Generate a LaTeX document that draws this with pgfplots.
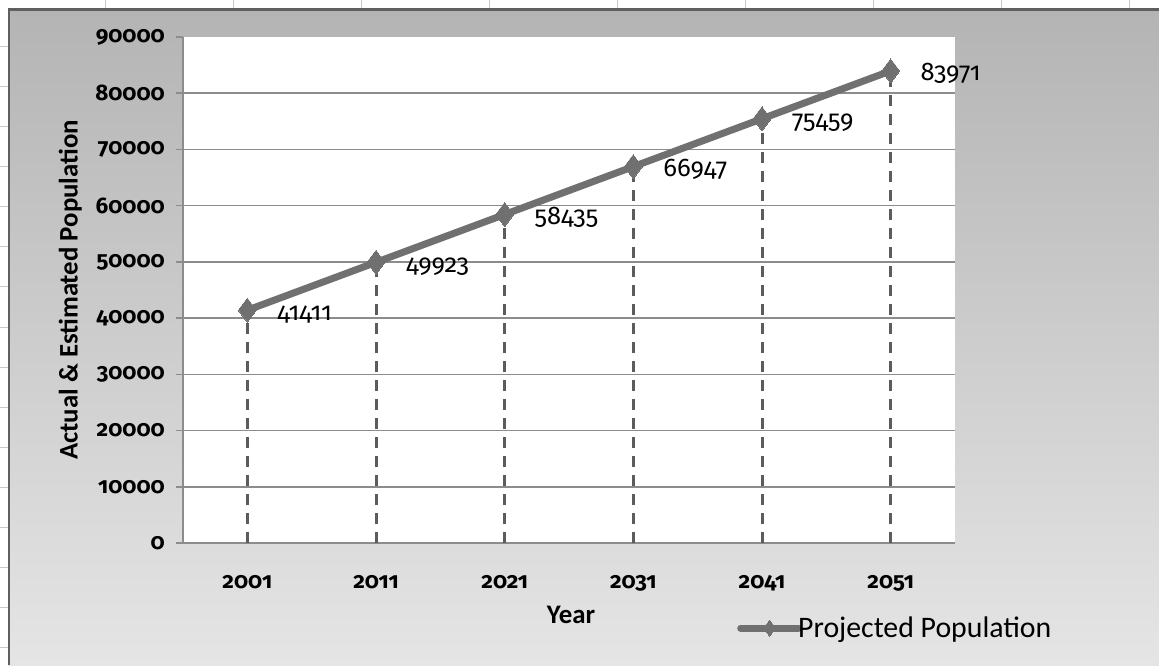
\documentclass[border=0pt]{standalone}
\usepackage{fontspec}
\setmainfont{Carlito}
\newfontfamily\numfont{Fira Sans}[Numbers=OldStyle]
\usepackage{pgfplots}
\pgfplotsset{compat=1.18}
\definecolor{bgtop}{RGB}{180,180,180}
\definecolor{bgbot}{RGB}{229,229,229}
\definecolor{framecol}{RGB}{95,95,95}
\definecolor{linecol}{RGB}{112,112,112}
\definecolor{dropcol}{RGB}{92,92,92}
\definecolor{gridcol}{RGB}{140,140,140}
\definecolor{sheetcol}{RGB}{200,200,200}
\pgfplotstableread{
x year pop
0 2001 41411
1 2011 49923
2 2021 58435
3 2031 66947
4 2041 75459
5 2051 83971
}\popdata
\begin{document}
\begin{tikzpicture}[x=1pt,y=1pt]
\path[use as bounding box] (0,0) rectangle (1159,665);
\fill[white] (0,0) rectangle (1159,665);
\foreach \yy in {47,87,...,647} {\draw[sheetcol, line width=1pt] (0,665-\yy) -- (8,665-\yy);}
\foreach \xx in {105,233,...,1129} {\draw[sheetcol, line width=1pt] (\xx,665) -- (\xx,656);}
\shade[top color=bgtop,bottom color=bgbot] (8,0) rectangle (1159,656);
\draw[line width=2.5pt, framecol] (9,0) -- (9,655.5) -- (1159,655.5);
\begin{axis}[
  at={(183pt,122pt)}, anchor=south west,
  scale only axis, width=772pt, height=506pt,
  xmin=-0.5, xmax=5.5, ymin=0, ymax=90000,
  axis background/.style={fill=white},
  axis x line*=bottom, axis y line*=left,
  axis line style={-, draw=gridcol, line width=1.5pt},
  xtick={0,...,5}, xticklabels={2001,2011,2021,2031,2041,2051},
  ytick={0,10000,...,80000},
  scaled y ticks=false,
  extra y ticks={90000}, extra y tick style={grid=none},
  ymajorgrids, grid style={gridcol, line width=1.5pt},
  tick align=outside, major tick length=7pt,
  ytick style={draw=gridcol, line width=1.5pt},
  xtick style={draw=none},
  /pgf/number format/1000 sep={},
  /pgf/number format/fixed,
  /pgf/number format/assume math mode=true,
  ticklabel style={font=\fontsize{22.5}{26}\selectfont\numfont\bfseries},
  yticklabel style={inner sep=0pt, xshift=-11pt},
  xticklabel style={inner sep=0pt, anchor=base, yshift=-38pt},
  xlabel={Year}, ylabel={Actual \& Estimated Population},
  label style={font=\fontsize{26.8}{31}\selectfont\bfseries},
  xlabel style={at={(axis description cs:0.5026,-0.160)}, anchor=base, inner sep=0pt},
  ylabel style={at={(axis description cs:-0.146,0.5)}, anchor=center, inner sep=0pt},
  clip=false,
  legend style={at={(axis description cs:0.7176,-0.168)}, anchor=west, draw=none, fill=none,
    inner sep=0pt, font=\fontsize{29.8}{34}\selectfont, legend cell align=left,
    /tikz/every odd column/.style={column sep=-4pt},
    nodes={inner sep=0pt}},
  legend image code/.code={\draw[mark repeat=2,mark phase=2,#1, mark size=8pt] plot coordinates {(0pt,0pt) (29pt,0pt) (58pt,0pt)};},
]
\addplot[ycomb, dropcol, line width=3pt, dash pattern=on 11pt off 8pt, no marks, forget plot] table[x=x, y=pop] {\popdata};
\addplot[linecol, line width=7pt, line cap=round, mark=diamond*, mark size=12pt,
  mark options={solid, fill=linecol, draw=linecol, line width=0pt},
  nodes near coords, point meta=y,
  every node near coord/.append style={anchor=base west, xshift=30pt, yshift=-10pt, inner sep=0pt,
    font=\fontsize{25.5}{29}\selectfont\numfont, text=black,
    /pgf/number format/fixed, /pgf/number format/precision=0, /pgf/number format/1000 sep={}}]
  table[x=x, y=pop] {\popdata};
\addlegendentry{Projected Population}
\end{axis}
\end{tikzpicture}
\end{document}
